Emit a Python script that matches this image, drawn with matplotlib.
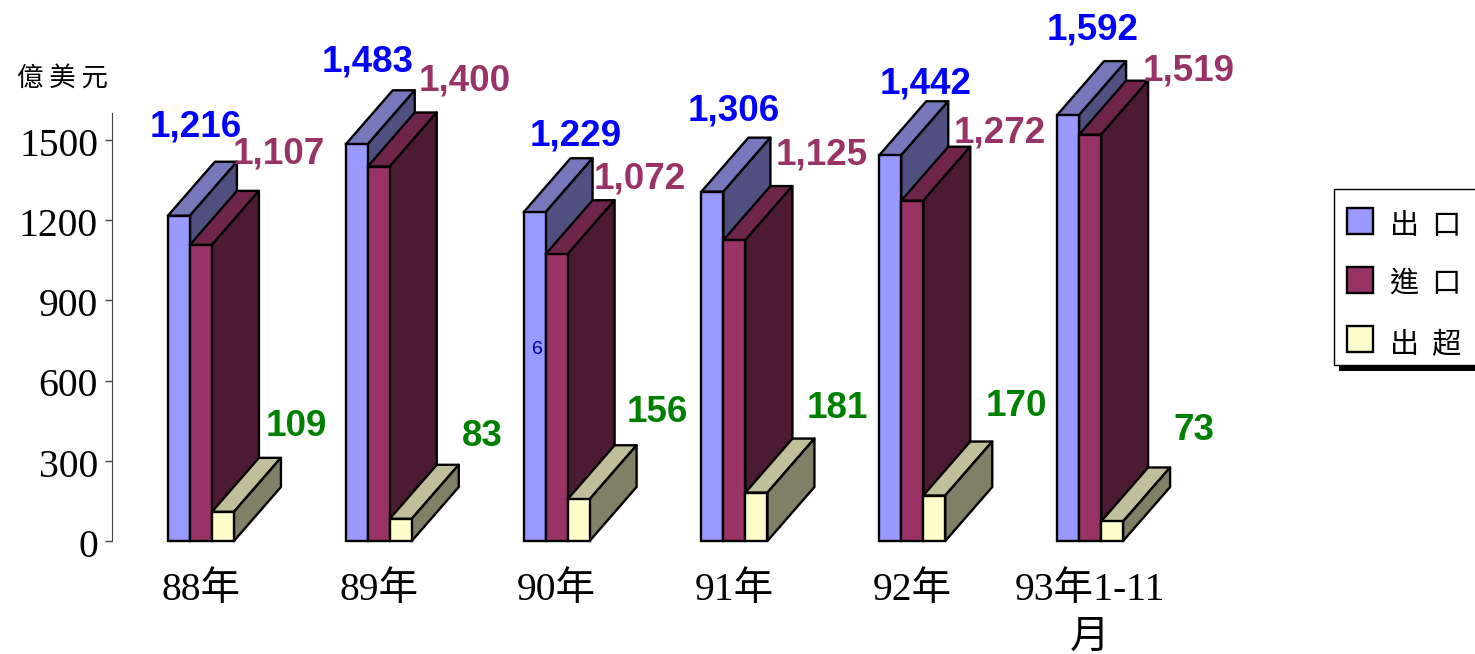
import matplotlib
matplotlib.use("Agg")
import matplotlib.pyplot as plt
from matplotlib.patches import Polygon, Rectangle
from matplotlib.transforms import ScaledTranslation

W, H = 1475, 654

# Data
years = ["88年", "89年", "90年", "91年", "92年", "93年1-11\n月"]
export_vals = [1216, 1483, 1229, 1306, 1442, 1592]
import_vals = [1107, 1400, 1072, 1125, 1272, 1519]
surplus_vals = [109, 83, 156, 181, 170, 73]
export_text = ["1,216", "1,483", "1,229", "1,306", "1,442", "1,592"]
import_text = ["1,107", "1,400", "1,072", "1,125", "1,272", "1,519"]
surplus_text = ["109", "83", "156", "181", "170", "73"]
yticks = [0, 300, 600, 900, 1200, 1500]
legend_labels = ["出  口", "進  口", "出  超"]

# Label centres in pixels
export_pos = [(196, 127), (368, 62), (576, 136), (734, 111), (926, 84), (1093, 30)]
import_pos = [(279, 154), (465, 81), (640, 179), (822, 155), (1000, 133), (1189, 71)]
surplus_pos = [(296, 427), (482, 436), (657, 413), (837, 408), (1016, 406), (1194, 430)]

# front, top, side
blue = ("#9999FF", "#7777BB", "#4F4F80")
plum = ("#993366", "#6F2449", "#4D1A33")
cream = ("#FFFFCC", "#BFBF99", "#808066")

serif = ["Liberation Serif", "Noto Sans CJK TC"]
cjk = ["Noto Sans CJK TC", "Liberation Serif"]
sans = ["Liberation Sans", "DejaVu Sans"]

fig = plt.figure(figsize=(W / 100, H / 100), dpi=100)
ax = fig.add_axes([112 / W, 1 - 541 / H, (1179 - 112) / W, (541 - 113) / H])
ax.set_xlim(0, 6)
ax.set_ylim(0, 1600)

bar_w = 22 / 177.8
depth_x = 47 / 177.8
depth_y = 54 * 1600 / 428
lw = 1.7


# Draws one front face with its top and side faces
def bar3d(x, val, colors, z):
    ax.bar(x, val, bar_w, align="edge", color=colors[0], edgecolor="black",
           linewidth=lw, zorder=z + 0.2, clip_on=False)
    r = x + bar_w
    top = [(x, val), (r, val), (r + depth_x, val + depth_y), (x + depth_x, val + depth_y)]
    side = [(r, 0), (r + depth_x, depth_y), (r + depth_x, val + depth_y), (r, val)]
    ax.add_patch(Polygon(top, closed=True, facecolor=colors[1], edgecolor="black",
                         linewidth=lw, zorder=z, clip_on=False, joinstyle="round"))
    ax.add_patch(Polygon(side, closed=True, facecolor=colors[2], edgecolor="black",
                         linewidth=lw, zorder=z, clip_on=False, joinstyle="round"))


for i in range(len(years)):
    left = i + 0.5 - 1.5 * bar_w
    bar3d(left, export_vals[i], blue, 2)
    bar3d(left + bar_w, import_vals[i], plum, 3)
    bar3d(left + 2 * bar_w, surplus_vals[i], cream, 4)

ax.set_xticks([i + 0.5 for i in range(len(years))])
ax.set_xticklabels(years, family=serif, fontsize=28.5, linespacing=1.4)
ax.set_yticks(yticks)
ax.set_yticklabels([str(v) for v in yticks], family=serif, fontsize=28.5)
ax.tick_params(axis="x", length=0, pad=22)
ax.tick_params(axis="y", length=5, width=1, color="#444444", pad=5)
# Nudge the y labels down a little, they sit just below their ticks
nudge = ScaledTranslation(0, -2 / 100, fig.dpi_scale_trans)
for label in ax.get_yticklabels():
    label.set_transform(label.get_transform() + nudge)
for name in ["top", "right", "bottom"]:
    ax.spines[name].set_visible(False)
ax.spines["left"].set_color("#444444")
ax.patch.set_alpha(0)

# Overlay in pixel coordinates for the labels and the legend
over = fig.add_axes([0, 0, 1, 1])
over.set_xlim(0, W)
over.set_ylim(H, 0)
over.axis("off")


def value_labels(texts, positions, color):
    for t, (px, py) in zip(texts, positions):
        over.text(px, py, t, color=color, family=sans, fontsize=26.5, fontweight="bold",
                  ha="center", va="center")


value_labels(export_text, export_pos, "#0000FF")
value_labels(import_text, import_pos, "#993366")
value_labels(surplus_text, surplus_pos, "#008000")

over.text(537, 350, "6", color="#000099", family=sans, fontsize=14, ha="center", va="center")
over.text(62, 79, "億 美 元", family=cjk, fontsize=19, ha="center", va="center")

# Legend box with its shadow, running off the right edge
over.add_patch(Rectangle((1339, 365), 140, 6, facecolor="black", edgecolor="none", clip_on=True))
over.add_patch(Rectangle((1334, 189), 145, 176, facecolor="white", edgecolor="black", linewidth=1))
for label, colors, py in zip(legend_labels, [blue, plum, cream], [221, 280, 339]):
    over.add_patch(Rectangle((1347, py - 13), 26, 26, facecolor=colors[0], edgecolor="black", linewidth=1.7))
    over.text(1390, py + 5, label, family=cjk, fontsize=21, ha="left", va="center")

fig.savefig("out.png", dpi=100)
